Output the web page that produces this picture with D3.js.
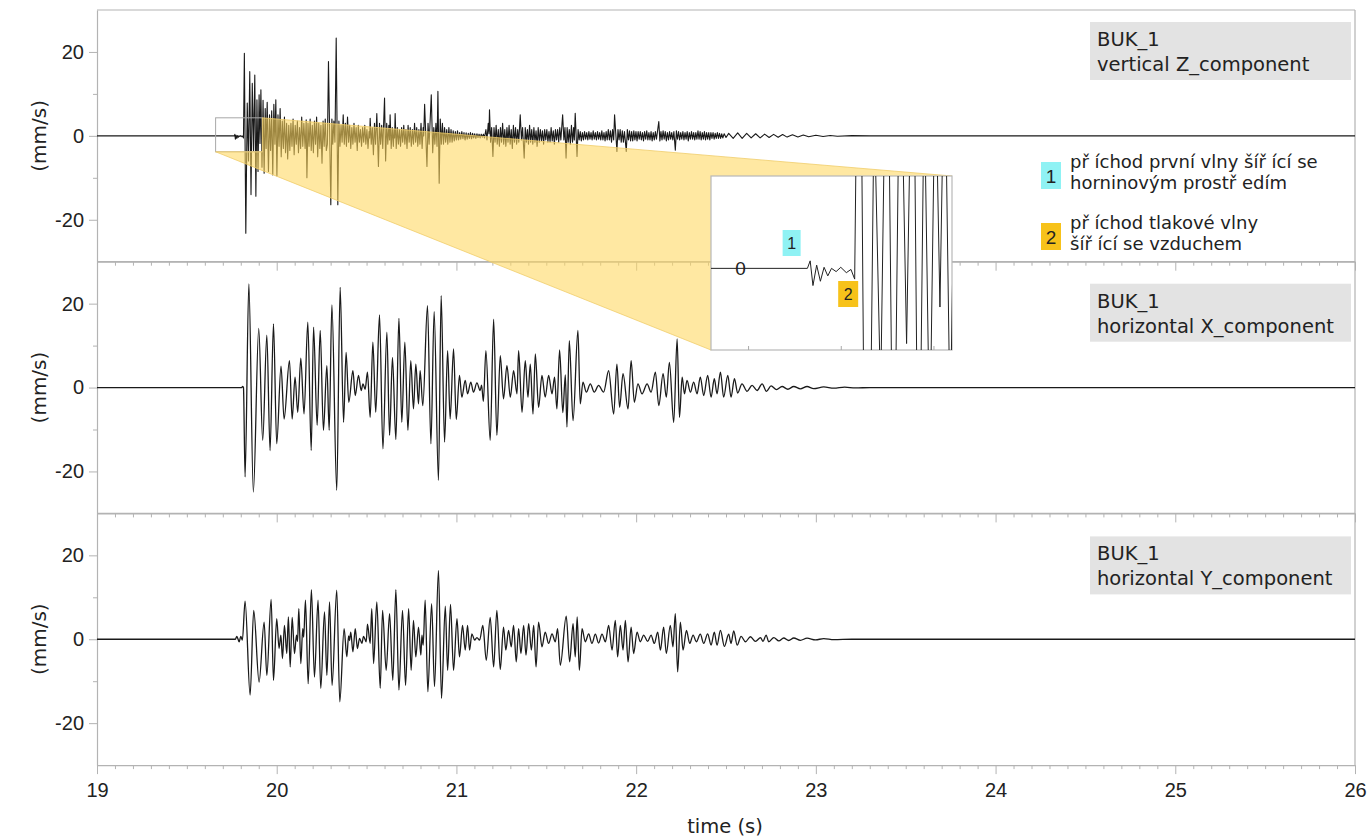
<!DOCTYPE html>
<html>
<head>
<meta charset="utf-8">
<script src="https://cdn.jsdelivr.net/npm/d3@7"></script>
<style>
  html, body { margin: 0; padding: 0; background: #fff; }
  svg text { font-family: "DejaVu Sans", Arial, sans-serif; }
  svg .tick text { font-family: "Liberation Sans", Arial, sans-serif; }
</style>
</head>
<body>
<svg id="chart" width="1371" height="839"></svg>
<script>
// ---- tick values -------------------------------------------------------
const timeTicks = [19, 20, 21, 22, 23, 24, 25, 26];
const ampTicks = [-20, 0, 20];
const ampMinorTicks = [-10, 10];

// ---- station / component captions ---------------------------------------
const stationNames = ["BUK_1", "BUK_1", "BUK_1"];
const componentNames = ["vertical Z_component", "horizontal X_component", "horizontal Y_component"];
const axisUnit = "(mm/s)";
const timeLabel = "time (s)";

// ---- legend ----------------------------------------------------------------
const legendMarks = ["1", "2"];
const legendLines = [
  ["př íchod první vlny šíř ící se", "horninovým prostř edím"],
  ["př íchod tlakové vlny", "šíř ící se vzduchem"]
];

// ---- enlarged window of the vertical record: time (s) and velocity (mm/s)
const zoomTime = [19.66, 19.92];
const zoomAmp = [-3.8, 4.3];
const zoomTimeTicks = [19.7, 19.8, 19.9];
const zoomMarkTimes = [19.747, 19.808];

// ---- vertical component: turning points [time s, velocity mm/s] -------------
const compZ = [
[19.000,0],[19.764,0],[19.767,0.35],[19.770,-0.8],[19.774,0.15],[19.778,-0.6],[19.782,0.05],[19.786,-0.35],
[19.790,0],[19.795,-0.15],[19.800,0.05],[19.806,-0.2],[19.811,-0.05],[19.815,-0.5],
[19.820,19.7],[19.828,-23.2],[19.836,7.8],[19.843,-6],[19.850,15.3],[19.857,-14],[19.864,12.5],[19.871,-3.5],
[19.878,14.5],[19.884,-14.4],[19.890,8.6],[19.896,-8.5],[19.902,9.8],[19.907,-1.8],[19.912,11],[19.918,-7.5],
[19.924,8.5],[19.930,-8.9],[19.936,6.5],[19.941,-3],[19.947,8],[19.954,-8.5],[19.960,5],[19.966,-3.5],
[19.972,6],[19.978,-9.3],[19.984,7.5],[19.990,-2],[19.995,8.6],[20.001,-9.5],[20.007,5],[20.013,-2.5],
[20.019,6.5],[20.025,-5],[20.031,3.5],[20.037,-3],[20.043,4.5],[20.049,-4],[20.055,3],[20.061,-5.5],
[20.067,2.5],[20.073,-3.5],[20.079,3],[20.085,-2.5],[20.091,4],[20.097,-4.5],[20.103,2.5],[20.109,-2],
[20.115,3.5],[20.121,-4],[20.127,2],[20.133,-3],[20.139,4.5],[20.145,-2.5],[20.151,3],[20.158,-3],
[20.164,3.8],[20.168,-10],[20.174,3],[20.180,-2.5],[20.186,4],[20.192,-3.5],[20.198,2.5],[20.204,-4],
[20.210,3.5],[20.216,-2],[20.222,4.5],[20.228,-5],[20.234,3],[20.240,-3],[20.246,2.5],[20.252,-6.5],
[20.258,3.5],[20.264,-2.5],[20.270,4],[20.276,-3.5],[20.282,-2],[20.288,17.7],[20.301,-16.4],[20.307,4],
[20.312,-2],[20.318,3.5],[20.324,-1.5],[20.331,23.3],[20.340,-16.4],[20.346,3.5],[20.352,-2.5],[20.358,2.5],
[20.364,-1.5],[20.370,5],[20.376,-2],[20.382,3],[20.388,-2.5],[20.394,4.5],[20.400,-1.5],[20.406,2.5],
[20.412,-3],[20.418,2],[20.424,-2],[20.430,3],[20.436,-1.5],[20.442,2],[20.448,-3.5],[20.454,2.5],
[20.460,-1.5],[20.466,1.5],[20.472,-2.5],[20.478,2],[20.484,-1.5],[20.490,2.5],[20.496,-2],[20.502,1.5],
[20.508,-3],[20.514,1],[20.517,-0.5],[20.520,4.2],[20.526,-2],[20.532,2],[20.538,-4.5],[20.544,3],
[20.550,-2],[20.557,5.3],[20.566,-7.3],[20.572,3],[20.578,-2],[20.584,2.5],[20.590,-3],[20.600,9],
[20.606,-6],[20.612,3],[20.618,-2],[20.624,2.5],[20.628,-1],[20.631,5],[20.637,-3],[20.643,2],
[20.649,-2.5],[20.653,1.5],[20.656,-0.5],[20.659,5.3],[20.665,-3],[20.671,2],[20.677,-2],[20.683,1.5],
[20.689,-2.5],[20.695,2],[20.701,-1.5],[20.707,2.5],[20.713,-2],[20.719,1.5],[20.725,-3],[20.731,2.5],
[20.737,-1.5],[20.743,2],[20.749,-2.5],[20.755,1.5],[20.761,-2],[20.767,3],[20.773,-1.5],[20.779,2],
[20.785,-2.5],[20.791,1.5],[20.797,-2],[20.803,3],[20.809,-3],[20.815,2],[20.818,0],[20.823,7.5],
[20.836,-7.3],[20.842,3],[20.848,-2],[20.860,9.8],[20.868,-4],[20.874,2],[20.880,-2],[20.886,3],
[20.892,-2.5],[20.897,10.6],[20.904,-11.3],[20.910,4],[20.916,-2],[20.922,3],[20.928,-2],[20.934,2],
[20.940,-1.5],[20.946,1.5],[20.952,-2],[20.958,2],[20.964,-1.5],[20.970,1.5],[20.976,-1.5],[20.982,1.2],
[20.988,-1.2],[20.994,1],[21.000,-1],[21.006,1.2],[21.012,-1],[21.018,0.8],[21.024,-0.8],[21.030,1],
[21.036,-0.7],[21.042,0.8],[21.048,-1],[21.054,0.7],[21.060,-0.8],[21.066,0.6],[21.072,-0.6],[21.078,0.8],
[21.084,-0.7],[21.090,0.6],[21.096,-0.5],[21.102,0.5],[21.108,-0.6],[21.114,0.5],[21.120,-0.4],[21.126,0.4],
[21.132,-0.5],[21.138,0.4],[21.144,-0.3],[21.150,0.4],[21.156,-0.5],[21.164,1.5],[21.170,-1],[21.177,3],
[21.181,0.5],[21.184,6.2],[21.190,-1.5],[21.196,2],[21.203,-4.9],[21.209,2],[21.215,-1.5],[21.221,2.5],
[21.227,-2],[21.233,1.5],[21.239,-2.5],[21.245,2],[21.251,-1.5],[21.257,3],[21.263,-2],[21.269,1.5],
[21.275,-2.5],[21.281,2],[21.287,-1.5],[21.293,2.5],[21.299,-2],[21.305,1.5],[21.311,-3],[21.317,2.5],
[21.323,-1.5],[21.329,2],[21.335,-2],[21.341,1.5],[21.347,-1.5],[21.355,5],[21.362,-1],[21.368,2],
[21.377,-5.3],[21.383,2],[21.389,-1.5],[21.395,1.5],[21.401,-2],[21.407,2.5],[21.413,-1.5],[21.419,1.5],
[21.425,-2],[21.431,2],[21.437,-1.5],[21.443,1.2],[21.449,-2.5],[21.455,2],[21.461,-1.5],[21.467,1.5],
[21.473,-1.2],[21.479,1.2],[21.485,-2],[21.491,1.5],[21.497,-1],[21.503,1.5],[21.509,-1.5],[21.515,1],
[21.521,-1.5],[21.527,2],[21.533,-1.2],[21.539,1.2],[21.545,-2],[21.551,1.5],[21.557,-1],[21.563,1.5],
[21.569,-1.5],[21.575,2],[21.581,-1],[21.591,5],[21.598,-1],[21.604,2],[21.610,-5.3],[21.616,2],
[21.622,-1.5],[21.628,1.5],[21.634,-2],[21.640,2.5],[21.646,-1.5],[21.652,2],[21.656,-1],[21.661,5.4],
[21.671,-4.9],[21.677,1.5],[21.683,-1],[21.689,1],[21.695,-1.2],[21.701,0.8],[21.707,-1],[21.713,1],
[21.719,-0.8],[21.725,0.8],[21.731,-1],[21.737,1],[21.743,-0.8],[21.749,0.8],[21.755,-1],[21.761,1.2],
[21.767,-0.8],[21.773,0.8],[21.779,-1],[21.785,1],[21.791,-0.8],[21.797,0.8],[21.803,-1],[21.809,1.2],
[21.815,-1],[21.821,0.8],[21.827,-1.2],[21.833,1],[21.839,-1],[21.845,1.5],[21.851,-1],[21.857,1.2],
[21.863,-1.5],[21.869,1.5],[21.875,-1],[21.880,5],[21.893,-3.7],[21.899,1.5],[21.905,-1],[21.911,1.5],
[21.917,-1.5],[21.923,1.2],[21.929,-1.5],[21.935,1],[21.945,-3.7],[21.951,1.5],[21.957,-1],[21.963,1.2],
[21.969,-1.2],[21.975,1],[21.981,-1.2],[21.987,1.2],[21.993,-1],[21.999,1],[22.005,-1.2],[22.011,1],
[22.017,-0.8],[22.023,1],[22.029,-1],[22.035,0.8],[22.041,-1.2],[22.047,1],[22.053,-0.8],[22.059,1.2],
[22.065,-1],[22.071,0.8],[22.077,-1],[22.083,1],[22.089,-1.2],[22.095,0.8],[22.101,-1],[22.107,1],
[22.113,-0.8],[22.126,3.4],[22.132,-1.2],[22.138,1],[22.144,-1],[22.150,1.2],[22.156,-0.8],[22.162,1],
[22.168,-1.2],[22.174,0.8],[22.180,-1],[22.186,1],[22.192,-0.8],[22.198,0.8],[22.204,-1],[22.210,1],
[22.218,-3.4],[22.224,1.2],[22.230,-0.8],[22.236,1],[22.242,-1],[22.248,0.8],[22.254,-0.8],[22.260,1],
[22.266,-1],[22.272,0.8],[22.278,-0.8],[22.284,1],[22.290,-1.2],[22.296,0.8],[22.302,-0.8],[22.308,1],
[22.314,-0.8],[22.320,0.8],[22.326,-1],[22.332,0.8],[22.338,-0.8],[22.344,1.2],[22.350,-0.8],[22.356,1],
[22.362,-1],[22.368,0.8],[22.374,-0.8],[22.380,1],[22.386,-1],[22.392,0.8],[22.398,-0.8],[22.404,0.8],
[22.410,-1],[22.416,0.8],[22.422,-0.6],[22.428,0.8],[22.434,-0.8],[22.440,0.6],[22.446,-0.6],[22.452,0.8],
[22.458,-0.6],[22.464,0.6],[22.470,-0.6],[22.476,0.5],[22.482,-0.5],[22.490,0.5],[22.500,-0.4],[22.515,0.6],
[22.540,-0.6],[22.565,0.7],[22.590,-0.6],[22.615,0.6],[22.640,-0.5],[22.665,0.5],[22.690,-0.5],[22.715,0.4],
[22.740,-0.4],[22.765,0.35],[22.790,-0.35],[22.815,0.3],[22.840,-0.3],[22.870,0.25],[22.900,-0.25],[22.930,0.2],
[22.960,-0.2],[23.000,0.15],[23.040,-0.15],[23.080,0.1],[23.120,-0.1],[23.200,0.05],[23.300,0],[26.000,0]
];

// ---- horizontal X component: turning points [time s, velocity mm/s] ---------
const compX = [
[19.000,0],[19.805,0],[19.811,0.3],[19.815,0],
[19.824,-21.3],[19.845,24.7],[19.870,-24.9],[19.900,14.1],[19.922,-12.6],[19.945,12.5],[19.963,-15],[19.982,15.2],
[20.000,-13.4],[20.024,5.1],[20.041,-7.5],[20.071,6.4],[20.086,-7.5],[20.102,2.5],[20.117,-5.9],[20.134,7],
[20.152,-6.3],[20.173,15.6],[20.192,-15],[20.205,14.4],[20.225,-9],[20.242,13.6],[20.260,-10.2],[20.279,5.2],
[20.292,-10.2],[20.307,19.7],[20.334,-24.5],[20.353,23.9],[20.372,-8.3],[20.386,8.4],[20.401,-3.5],[20.424,4],
[20.437,-1.9],[20.455,2.9],[20.470,-0.7],[20.480,0.9],[20.492,-0.4],[20.505,3.7],[20.520,-7.1],[20.535,10.8],
[20.551,-5.9],[20.572,17.3],[20.591,-14.6],[20.613,13.2],[20.628,-11.4],[20.644,7.2],[20.663,-12.4],[20.680,16.5],
[20.696,-8.3],[20.713,10.8],[20.730,-10.2],[20.746,6.4],[20.761,-5.1],[20.774,5.6],[20.789,-3.9],[20.798,4],
[20.813,-4.3],[20.839,19.5],[20.858,-13.4],[20.876,18.1],[20.900,-22.1],[20.915,21.9],[20.934,-13],[20.951,8.8],
[20.965,-7.5],[20.984,9.2],[20.999,-7.6],[21.017,2.9],[21.030,-2.3],[21.049,1.7],[21.062,-1.5],[21.080,1.3],
[21.095,-1.1],[21.114,1.1],[21.132,-0.7],[21.140,0.6],[21.150,-3.3],[21.164,8.8],[21.188,-12.6],[21.207,16.3],
[21.225,-11.4],[21.244,7.6],[21.262,-2.7],[21.281,5.2],[21.300,-2.3],[21.318,4],[21.337,-1.5],[21.346,8.8],
[21.365,-5.9],[21.383,6.4],[21.398,-2.3],[21.411,5.6],[21.426,-6.3],[21.439,8],[21.457,-4.7],[21.476,2.9],
[21.494,-2.3],[21.513,2.9],[21.532,-1.5],[21.546,2.5],[21.559,-5.1],[21.574,9],[21.592,-6],[21.606,3],
[21.615,-9.4],[21.628,11.2],[21.649,-7.9],[21.676,13.6],[21.689,-3.9],[21.704,1.3],[21.723,-1.1],[21.745,0.9],
[21.767,-1.1],[21.791,0.5],[21.819,-1.1],[21.847,4],[21.875,-6.3],[21.893,5.6],[21.908,-4.7],[21.927,3.3],
[21.955,-5.1],[21.972,6.4],[21.990,-3.5],[22.010,0.9],[22.033,-1.5],[22.061,0.9],[22.083,-1.1],[22.107,3.7],
[22.126,-4.3],[22.150,3.3],[22.168,-2.3],[22.185,6],[22.209,-8.3],[22.228,11.6],[22.241,-7.1],[22.256,2.5],
[22.269,-1.5],[22.283,1.7],[22.302,-1.1],[22.320,1.3],[22.339,-1.5],[22.357,2.5],[22.376,-1.9],[22.398,2.9],
[22.417,-2.3],[22.435,2.1],[22.450,-1.5],[22.469,3.7],[22.487,-2.3],[22.510,2.9],[22.528,-2.3],[22.547,2.1],
[22.565,-1.3],[22.589,0.9],[22.617,-0.9],[22.645,0.5],[22.673,-0.7],[22.701,0.9],[22.725,-0.9],[22.751,0.4],
[22.781,-0.5],[22.812,0.25],[22.844,-0.4],[22.877,0.25],[22.914,-0.3],[22.951,0.25],[22.988,-0.25],[23.044,0.15],
[23.100,-0.15],[23.160,0.1],[23.220,-0.1],[23.300,0],[26.000,0]
];

// ---- horizontal Y component: turning points [time s, velocity mm/s] ---------
const compY = [
[19.000,0],[19.770,0],[19.778,0.7],[19.791,-0.6],[19.800,0.7],[19.809,-0.2],[19.824,9.1],[19.852,-13.3],
[19.872,6.9],[19.902,-10.2],[19.930,4.1],[19.945,-8.6],[19.969,9.5],[19.982,-9.8],[20.000,4.9],[20.013,-2.2],
[20.023,1],[20.032,-4.6],[20.043,3.3],[20.056,-3.4],[20.065,5.3],[20.075,-6.6],[20.086,5.2],[20.099,-3.4],
[20.110,1],[20.116,-0.5],[20.123,7.3],[20.134,-5.8],[20.145,2.5],[20.150,0.5],[20.160,9.3],[20.175,-10.6],
[20.193,11.8],[20.210,-9],[20.230,9.3],[20.245,-11.7],[20.266,6.5],[20.279,-8.6],[20.294,8.9],[20.308,-11],
[20.334,11.7],[20.351,-14.9],[20.375,2.5],[20.390,-4.2],[20.400,0.8],[20.405,-0.3],[20.412,1.7],[20.424,-3],
[20.437,2.5],[20.449,-2.2],[20.461,0.2],[20.474,-1],[20.483,0.7],[20.498,-0.6],[20.505,3.6],[20.520,-1],
[20.529,7.3],[20.539,-5.8],[20.557,8.9],[20.576,-11.7],[20.589,6.9],[20.609,-7.4],[20.628,6.1],[20.646,-9.8],
[20.663,11.8],[20.680,-12.1],[20.700,6.9],[20.717,-11],[20.734,7.3],[20.748,-7.4],[20.761,4.5],[20.774,-4.2],
[20.789,2.9],[20.802,-3.8],[20.808,1],[20.815,-1.4],[20.826,9.3],[20.841,-12.5],[20.862,8.5],[20.878,-11.3],
[20.900,16.4],[20.917,-14.1],[20.938,7.9],[20.951,-7.4],[20.967,8.3],[20.984,-7.4],[21.003,4.9],[21.017,-4.2],
[21.034,3.3],[21.049,-2.6],[21.062,3.3],[21.073,-2.6],[21.086,1.3],[21.101,-0.2],[21.114,0.4],[21.129,-0.2],
[21.147,3.3],[21.166,-5],[21.188,5.2],[21.207,-6.6],[21.225,6.9],[21.244,-7.2],[21.262,2.9],[21.275,-2.6],
[21.290,2.1],[21.305,-1.8],[21.318,3.3],[21.333,-5.4],[21.346,2.5],[21.359,-3.4],[21.374,3.3],[21.387,-3.8],
[21.402,3.7],[21.417,-2.6],[21.430,3.3],[21.443,-6.6],[21.457,4.1],[21.476,-1.8],[21.494,1.7],[21.513,-1],
[21.532,1.3],[21.550,-0.6],[21.563,2.5],[21.578,-6.2],[21.611,5.5],[21.630,-5.4],[21.649,3.7],[21.661,-4.2],
[21.672,5.3],[21.684,-7.4],[21.699,2.5],[21.717,-0.6],[21.736,1.3],[21.754,-1],[21.773,1.2],[21.791,-0.9],
[21.810,1.2],[21.829,-0.6],[21.847,3.3],[21.866,-2.6],[21.884,4.5],[21.897,-4.2],[21.912,3.3],[21.927,-2.6],
[21.940,4.5],[21.955,-5.4],[21.972,2.9],[21.986,-3.4],[22.005,1.7],[22.023,-0.6],[22.042,1],[22.064,-0.5],
[22.083,1],[22.101,-1],[22.120,1.7],[22.135,-2.6],[22.153,2.9],[22.168,-3.4],[22.190,3.3],[22.205,-1.8],
[22.218,6.1],[22.231,-7.8],[22.246,4.1],[22.261,-2.6],[22.280,2.1],[22.298,-1],[22.317,1],[22.335,-0.6],
[22.357,1.2],[22.376,-1],[22.398,1.3],[22.417,-1.4],[22.435,1.7],[22.450,-1.4],[22.469,2.1],[22.491,-1.7],
[22.515,1.2],[22.528,-1],[22.543,2],[22.562,-1.4],[22.584,0.7],[22.608,-0.6],[22.636,0.6],[22.664,-0.5],
[22.692,0.4],[22.706,-0.5],[22.723,1],[22.738,-0.6],[22.766,0.4],[22.794,-0.4],[22.821,0.3],[22.849,-0.3],
[22.877,0.3],[22.914,-0.25],[22.951,0.25],[22.998,-0.15],[23.044,0.15],[23.100,-0.1],[23.200,0],[26.000,0]
];

const records = [compZ, compX, compY];

// ---- layout ------------------------------------------------------------------
const plotLeft = 97, plotRight = 1355;
const panelTop0 = 10, panelH = 251.7;
const captionOffsets = [12, 22, 23];
const inset = { x: 711, y: 176, w: 241, h: 174 };

const svg = d3.select("#chart");
const axisGrey = "#b3b3b3";
const textCol = "#222";
const plainNumber = d => String(d);   // keeps an ASCII hyphen for negative values

const x = d3.scaleLinear().domain([19, 26]).range([plotLeft, plotRight]);
const minorTimeTicks = d3.range(190, 261).map(d => d / 10).filter(d => !timeTicks.includes(d));

const panelY = records.map((_, i) => {
  const top = panelTop0 + i * panelH;
  return d3.scaleLinear().domain([-30, 30]).range([top + panelH, top]);
});

const defs = svg.append("defs");

records.forEach((rec, i) => {
  const y = panelY[i];
  const top = panelTop0 + i * panelH;
  const g = svg.append("g");

  // panel frame (top and right edges)
  g.append("line").attr("x1", plotLeft).attr("x2", plotRight).attr("y1", top).attr("y2", top)
    .attr("stroke", axisGrey).attr("stroke-width", 1.2);
  g.append("line").attr("x1", plotRight).attr("x2", plotRight).attr("y1", top).attr("y2", top + panelH)
    .attr("stroke", axisGrey).attr("stroke-width", 1.2);

  // left axis: labelled major ticks and short minor ticks
  g.append("g").attr("transform", `translate(${plotLeft},0)`)
    .call(d3.axisLeft(y).tickValues(ampTicks).tickSize(8).tickPadding(5).tickSizeOuter(0)
      .tickFormat(plainNumber));
  g.append("g").attr("transform", `translate(${plotLeft},0)`)
    .call(d3.axisLeft(y).tickValues(ampMinorTicks).tickSize(4).tickFormat("").tickSizeOuter(0))
    .select(".domain").remove();

  // bottom axis
  const xAxisMajor = d3.axisBottom(x).tickValues(timeTicks).tickSize(9).tickPadding(9)
    .tickSizeOuter(0).tickFormat(plainNumber);
  if (i < records.length - 1) xAxisMajor.tickFormat("");
  g.append("g").attr("transform", `translate(0,${top + panelH})`).call(xAxisMajor);
  g.append("g").attr("transform", `translate(0,${top + panelH})`)
    .call(d3.axisBottom(x).tickValues(minorTimeTicks).tickSize(4).tickFormat("").tickSizeOuter(0))
    .select(".domain").remove();

  g.selectAll(".domain").attr("stroke", axisGrey).attr("stroke-width", 1.2);
  g.selectAll(".tick line").attr("stroke", axisGrey).attr("stroke-width", 1);
  g.selectAll(".tick text").attr("font-size", 20).attr("fill", textCol);

  // unit label
  g.append("text")
    .attr("transform", `translate(46,${y(0)}) rotate(-90)`)
    .attr("text-anchor", "middle").attr("font-size", 20).attr("fill", textCol)
    .text(axisUnit);

  // record trace
  defs.append("clipPath").attr("id", "clip" + i)
    .append("rect").attr("x", plotLeft).attr("y", top).attr("width", plotRight - plotLeft).attr("height", panelH);
  const line = d3.line()
    .x(d => x(d[0])).y(d => y(d[1]))
    .curve(i === 0 ? d3.curveLinear : d3.curveMonotoneX);
  svg.append("path").datum(rec)
    .attr("clip-path", `url(#clip${i})`)
    .attr("fill", "none").attr("stroke", "#1a1a1a")
    .attr("stroke-width", i === 0 ? 1.1 : 1.3).attr("stroke-linejoin", "round")
    .attr("d", line);
});

// time axis title
svg.append("text").attr("x", 725).attr("y", 833).attr("text-anchor", "middle")
  .attr("font-size", 19.5).attr("fill", textCol).text(timeLabel);

// ---- enlarged window ----------------------------------------------------------
const yZ = panelY[0];
const box = {
  x0: x(zoomTime[0]), x1: x(zoomTime[1]),
  y0: yZ(zoomAmp[1]), y1: yZ(zoomAmp[0])
};
svg.append("rect").attr("x", box.x0).attr("y", box.y0)
  .attr("width", box.x1 - box.x0).attr("height", box.y1 - box.y0)
  .attr("fill", "none").attr("stroke", "#a8a8a8").attr("stroke-width", 1);

// projection band from the small window to the enlarged view
const band = [
  [box.x1, box.y0],
  [inset.x + inset.w, inset.y],
  [inset.x, inset.y + inset.h],
  [box.x0, box.y1],
  [box.x1, box.y1]
];
svg.append("path")
  .attr("d", d3.line()(band) + "Z")
  .attr("fill", "#ffd75e").attr("fill-opacity", 0.58)
  .attr("stroke", "#f0cd6a").attr("stroke-width", 0.8);

const xIn = d3.scaleLinear().domain(zoomTime).range([inset.x, inset.x + inset.w]);
const yIn = d3.scaleLinear().domain(zoomAmp).range([inset.y + inset.h, inset.y]);

svg.append("rect").attr("x", inset.x).attr("y", inset.y).attr("width", inset.w).attr("height", inset.h)
  .attr("fill", "#fff").attr("stroke", "#b8b8b8").attr("stroke-width", 1.2);

defs.append("clipPath").attr("id", "clipInset")
  .append("rect").attr("x", inset.x).attr("y", inset.y).attr("width", inset.w).attr("height", inset.h);

svg.append("g").attr("transform", `translate(0,${inset.y + inset.h})`)
  .call(d3.axisTop(xIn).tickValues(zoomTimeTicks).tickSize(4).tickFormat("").tickSizeOuter(0))
  .call(g => g.select(".domain").remove())
  .selectAll("line").attr("stroke", "#aaa");

svg.append("path").datum(compZ)
  .attr("clip-path", "url(#clipInset)")
  .attr("fill", "none").attr("stroke", "#222").attr("stroke-width", 1)
  .attr("d", d3.line().x(d => xIn(d[0])).y(d => yIn(d[1])));

svg.append("text").attr("x", xIn(19.692)).attr("y", yIn(0)).attr("dy", "0.36em")
  .attr("text-anchor", "middle").attr("font-size", 19).attr("fill", textCol)
  .style("font-family", '"Liberation Sans", Arial, sans-serif').text("0");

// arrival marks inside the enlarged view
const markFill = ["#8ff2f4", "#f7c21a"];
const insetMarkPos = [
  { x: xIn(zoomMarkTimes[0]), y: 230, w: 18 },
  { x: xIn(zoomMarkTimes[1]), y: 281, w: 20 }
];
insetMarkPos.forEach((p, k) => {
  svg.append("rect").attr("x", p.x - p.w / 2).attr("y", p.y).attr("width", p.w).attr("height", 26)
    .attr("fill", markFill[k]);
  svg.append("text").attr("x", p.x).attr("y", p.y + 13).attr("dy", "0.36em")
    .attr("text-anchor", "middle").attr("font-size", 16).attr("fill", textCol)
    .style("font-family", '"Liberation Sans", Arial, sans-serif').text(legendMarks[k]);
});

// ---- captions -----------------------------------------------------------------
records.forEach((_, i) => {
  const top = panelTop0 + i * panelH + captionOffsets[i];
  svg.append("rect").attr("x", 1090).attr("y", top).attr("width", 261).attr("height", 58)
    .attr("fill", "#e3e3e3");
  svg.append("text").attr("x", 1097).attr("y", top + 24).attr("font-size", 19.5).attr("fill", textCol)
    .text(stationNames[i]);
  svg.append("text").attr("x", 1097).attr("y", top + 49).attr("font-size", 19.5).attr("fill", textCol)
    .text(componentNames[i]);
});

// ---- legend -------------------------------------------------------------------
const legendTop = [162, 223];
legendMarks.forEach((m, k) => {
  const ty = legendTop[k];
  svg.append("rect").attr("x", 1041).attr("y", ty).attr("width", 20).attr("height", 27)
    .attr("fill", markFill[k]);
  svg.append("text").attr("x", 1051).attr("y", ty + 14).attr("dy", "0.36em")
    .attr("text-anchor", "middle").attr("font-size", 19).attr("fill", textCol)
    .style("font-family", '"Liberation Sans", Arial, sans-serif').text(m);
  legendLines[k].forEach((t, j) => {
    svg.append("text").attr("x", 1070).attr("y", ty + 6 + j * 21).attr("font-size", 18)
      .attr("fill", textCol).text(t);
  });
});
</script>
</body>
</html>
